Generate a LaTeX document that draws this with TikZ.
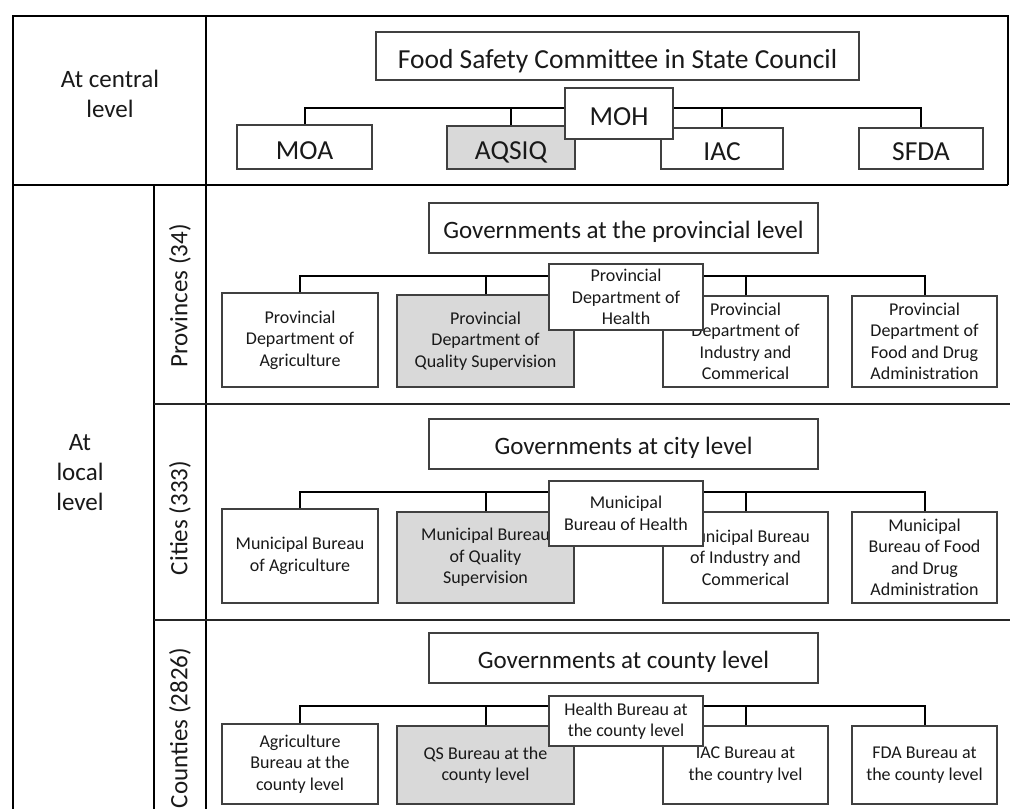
\documentclass[tikz,border=0pt]{standalone}
\usepackage{fontspec}
\setmainfont{Carlito}
\begin{document}
\begin{tikzpicture}[x=1pt,y=-1pt,
  frame/.style={line width=2pt,black},
  sep/.style={line width=1.3pt,black!85},
  conn/.style={line width=2pt,black},
  box/.style={draw=black!75,line width=1.1pt,fill=white,align=center,inner sep=0pt,text=black!90},
  grey/.style={fill=black!15},
  big/.style={font=\fontsize{27.5}{33}\selectfont,text height=24pt,text depth=0pt},
  gov/.style={font=\fontsize{25}{30}\selectfont,text height=20pt,text depth=0pt},
  lbl/.style={font=\fontsize{25}{30}\selectfont,align=center,text=black!90},
  small/.style={font=\fontsize{18}{21.5}\selectfont}]
\useasboundingbox (0,0) rectangle (1010,809);
% frame
\draw[frame] (13,809) -- (13,16) -- (1008,16) -- (1008,185);
\draw[frame] (13,185) -- (1008,185);
\draw[frame] (206,16) -- (206,809);
\draw[frame] (154,185) -- (154,809);
\draw[sep] (154,404) -- (1010,404);
\draw[sep] (154,620) -- (1010,620);
% labels
\node[lbl] (lcentral) at (110,94) {At central\\level};
\node[lbl] (llocal) at (80,473) {At\\local\\level};
\node[lbl,rotate=90] (lprov) at (180,296) {Provinces (34)};
\node[lbl,rotate=90] (lcity) at (180,518) {Cities (333)};
\node[lbl,rotate=90] (lcounty) at (180,728) {Counties (2826)};
% central
\node[box,big,minimum width=483pt,minimum height=48pt] (fsc) at (617.5,56) {Food Safety Committee in State Council};
\node[box,big,minimum width=135pt,minimum height=44pt] (moa) at (304.5,147) {MOA};
\node[box,big,grey,minimum width=128pt,minimum height=43pt] (aqsiq) at (511,147.5) {AQSIQ};
\node[box,big,minimum width=122pt,minimum height=41pt] (iac) at (722,148.5) {IAC};
\node[box,big,minimum width=124pt,minimum height=41pt] (sfda) at (921,148.5) {SFDA};
\coordinate (c0) at (0,108);
\draw[conn] (moa.north) -- (moa.north |- c0) -- (sfda.north |- c0) -- (sfda.north);
\draw[conn] (aqsiq.north) -- (aqsiq.north |- c0);
\draw[conn] (iac.north) -- (iac.north |- c0);
\node[box,big,minimum width=108pt,minimum height=51pt] (moh) at (619,113.5) {MOH};
% provincial
\node[box,gov,minimum width=389pt,minimum height=50pt] (gp) at (623.5,228) {Governments at the provincial level};
\node[box,small,minimum width=156pt,minimum height=94pt] (pa) at (300,340) {Provincial\\Department of\\Agriculture};
\node[box,small,grey,minimum width=177pt,minimum height=92pt] (pq) at (485.5,341) {Provincial\\Department of\\Quality Supervision};
\node[box,small,minimum width=165pt,minimum height=91pt] (pi) at (745.5,341.5) {Provincial\\Department of\\Industry and\\Commerical};
\node[box,small,minimum width=145pt,minimum height=91pt] (pf) at (924.5,341.5) {Provincial\\Department of\\Food and Drug\\Administration};
\coordinate (c1) at (0,276);
\draw[conn] (pa.north) -- (pa.north |- c1) -- (pf.north |- c1) -- (pf.north);
\draw[conn] (pq.north) -- (pq.north |- c1);
\draw[conn] (pi.north) -- (pi.north |- c1);
\node[box,small,minimum width=154pt,minimum height=66pt] (ph) at (626,297) {Provincial\\Department of\\Health};
% city
\node[box,gov,minimum width=389pt,minimum height=50pt] (gc) at (623.5,444) {Governments at city level};
\node[box,small,minimum width=156pt,minimum height=94pt] (ma) at (300,556) {Municipal Bureau\\of Agriculture};
\node[box,small,grey,minimum width=177pt,minimum height=91pt] (mq) at (485.5,557.5) {Municipal Bureau\\of Quality\\Supervision};
\node[box,small,minimum width=165pt,minimum height=91pt] (mi) at (745.5,557.5) {Municipal Bureau\\of Industry and\\Commerical};
\node[box,small,minimum width=145pt,minimum height=91pt] (mf) at (924.5,557.5) {Municipal\\Bureau of Food\\and Drug\\Administration};
\coordinate (c2) at (0,492);
\draw[conn] (ma.north) -- (ma.north |- c2) -- (mf.north |- c2) -- (mf.north);
\draw[conn] (mq.north) -- (mq.north |- c2);
\draw[conn] (mi.north) -- (mi.north |- c2);
\node[box,small,minimum width=154pt,minimum height=65pt] (mh) at (626,513.5) {Municipal\\Bureau of Health};
% county
\node[box,gov,minimum width=389pt,minimum height=50pt] (gk) at (623.5,658) {Governments at county level};
\node[box,small,minimum width=156pt,minimum height=80pt] (ka) at (300,764) {Agriculture\\Bureau at the\\county level};
\node[box,small,grey,minimum width=177pt,minimum height=78pt] (kq) at (485.5,765) {QS Bureau at the\\county level};
\node[box,small,minimum width=165pt,minimum height=78pt] (ki) at (745.5,765) {IAC Bureau at\\the country lvel};
\node[box,small,minimum width=145pt,minimum height=78pt] (kf) at (924.5,765) {FDA Bureau at\\the county level};
\coordinate (c3) at (0,706);
\draw[conn] (ka.north) -- (ka.north |- c3) -- (kf.north |- c3) -- (kf.north);
\draw[conn] (kq.north) -- (kq.north |- c3);
\draw[conn] (ki.north) -- (ki.north |- c3);
\node[box,small,minimum width=154pt,minimum height=50pt] (kh) at (626,721) {Health Bureau at\\the county level};
\end{tikzpicture}
\end{document}
